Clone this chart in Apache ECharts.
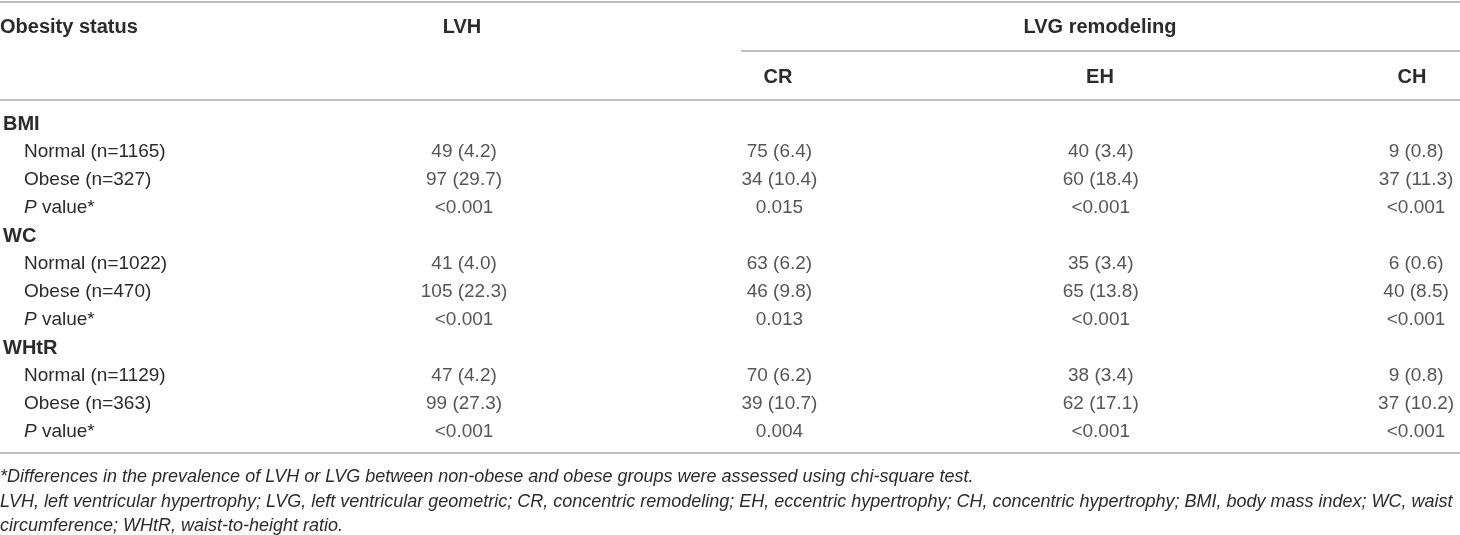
<!DOCTYPE html>
<html>
<head>
    <meta charset="utf-8">
    <title>Obesity status and LVH / LVG remodeling</title>
    <script src="https://cdn.jsdelivr.net/npm/echarts@6/dist/echarts.min.js"></script>
    <style>
        html, body { margin: 0; padding: 0; background: #fff; }
    </style>
</head>
<body>
    <div id="main" style="width: 1460px;height: 535px;"></div>
    <script type="text/javascript">
// row labels of the first column, top to bottom
var rowLabels = ['BMI', 'Normal (n=1165)', 'Obese (n=327)', 'P value*',
                 'WC', 'Normal (n=1022)', 'Obese (n=470)', 'P value*',
                 'WHtR', 'Normal (n=1129)', 'Obese (n=363)', 'P value*'];
var groupRows = ['BMI', 'WC', 'WHtR'];
var columnNames = ['LVH', 'CR', 'EH', 'CH'];

// n (%) per group: Normal, Obese for BMI, WC, WHtR
var lvhN   = [49, 97, 41, 105, 47, 99];
var lvhPct = [4.2, 29.7, 4.0, 22.3, 4.2, 27.3];
var crN    = [75, 34, 63, 46, 70, 39];
var crPct  = [6.4, 10.4, 6.2, 9.8, 6.2, 10.7];
var ehN    = [40, 60, 35, 65, 38, 62];
var ehPct  = [3.4, 18.4, 3.4, 13.8, 3.4, 17.1];
var chN    = [9, 37, 6, 40, 9, 37];
var chPct  = [0.8, 11.3, 0.6, 8.5, 0.8, 10.2];

// p values for BMI, WC, WHtR
var lvhP = ['<0.001', '<0.001', '<0.001'];
var crP  = ['0.015', '0.013', '0.004'];
var ehP  = ['<0.001', '<0.001', '<0.001'];
var chP  = ['<0.001', '<0.001', '<0.001'];

var footnotes = [
    '*Differences in the prevalence of LVH or LVG between non-obese and obese groups were assessed using chi-square test.',
    'LVH, left ventricular hypertrophy; LVG, left ventricular geometric; CR, concentric remodeling; EH, eccentric hypertrophy; CH, concentric hypertrophy; BMI, body mass index; WC, waist',
    'circumference; WHtR, waist-to-height ratio.'
];

// layout
var W = 1460;
var colX = [462, 778, 1100, 1416];
var FONT = 'Liberation Sans';
var TXT = '#2b2b2b';
var RULE = '#a7a9ac';

var myChart = echarts.init(document.getElementById('main'));

// build cell text for one column: group rows blank, then n (%), n (%), p
function columnCells(n, pct, p) {
    var out = [];
    for (var g = 0; g < 3; g++) {
        out.push('');
        out.push(n[g * 2] + ' (' + pct[g * 2].toFixed(1) + ')');
        out.push(n[g * 2 + 1] + ' (' + pct[g * 2 + 1].toFixed(1) + ')');
        out.push(p[g]);
    }
    return out;
}

var cells = [
    columnCells(lvhN, lvhPct, lvhP),
    columnCells(crN, crPct, crP),
    columnCells(ehN, ehPct, ehP),
    columnCells(chN, chPct, chP)
];

var series = cells.map(function (col, ci) {
    return {
        name: columnNames[ci],
        type: 'scatter',
        symbolSize: 0,
        silent: true,
        data: col.map(function (t, ri) { return { value: [colX[ci], ri], txt: t }; }),
        label: {
            show: true,
            position: 'inside',
            formatter: function (p) { return p.data.txt; },
            fontFamily: FONT,
            fontSize: 19,
            color: TXT
        }
    };
});

function line(x1, y1, x2, y2) {
    return { type: 'line', shape: { x1: x1, y1: y1, x2: x2, y2: y2 },
             style: { stroke: RULE, lineWidth: 1.5 }, silent: true };
}
function head(txt, x, y, align) {
    return { type: 'text', x: x, y: y,
             style: { text: txt, fontFamily: FONT, fontSize: 20, fontWeight: 'bold',
                      fill: TXT, align: align, verticalAlign: 'middle' } };
}

var graphics = [
    line(0, 2, W, 2),
    line(741, 51, W, 51),
    line(0, 100, W, 100),
    line(0, 453, W, 453),
    head('Obesity status', 0, 27, 'left'),
    head('LVH', colX[0], 27, 'center'),
    head('LVG remodeling', 1100, 27, 'center'),
    head('CR', colX[1], 77, 'center'),
    head('EH', colX[2], 77, 'center'),
    head('CH', 1412, 77, 'center')
];
footnotes.forEach(function (t, i) {
    graphics.push({ type: 'text', x: 0, y: 477 + i * 24.5,
        style: { text: t, fontFamily: FONT, fontSize: 18, fontStyle: 'italic',
                 fill: TXT, align: 'left', verticalAlign: 'middle' } });
});

myChart.setOption({
    animation: false,
    grid: { left: -3, right: 0, top: 110, bottom: 89 },
    xAxis: { type: 'value', min: 0, max: W, show: false },
    yAxis: {
        type: 'category',
        inverse: true,
        data: rowLabels,
        axisLine: { show: false },
        axisTick: { show: false },
        splitLine: { show: false },
        axisLabel: {
            inside: true,
            margin: 0,
            fontFamily: FONT,
            fontSize: 19,
            color: TXT,
            formatter: function (v) {
                if (groupRows.indexOf(v) >= 0) return '{g|' + v + '}';
                if (v.indexOf('P value') === 0) return '{pi|P}{b| value*}';
                return '{ind|' + v + '}';
            },
            rich: {
                g:   { fontFamily: FONT, fontSize: 20, fontWeight: 'bold', color: TXT },
                b:   { fontFamily: FONT, fontSize: 19, color: TXT },
                ind: { fontFamily: FONT, fontSize: 19, color: TXT, padding: [0, 0, 0, 21] },
                pi:  { fontFamily: FONT, fontSize: 19, fontStyle: 'italic', color: TXT, padding: [0, 0, 0, 21] }
            }
        }
    },
    graphic: graphics,
    series: series
});
    </script>
</body>
</html>
